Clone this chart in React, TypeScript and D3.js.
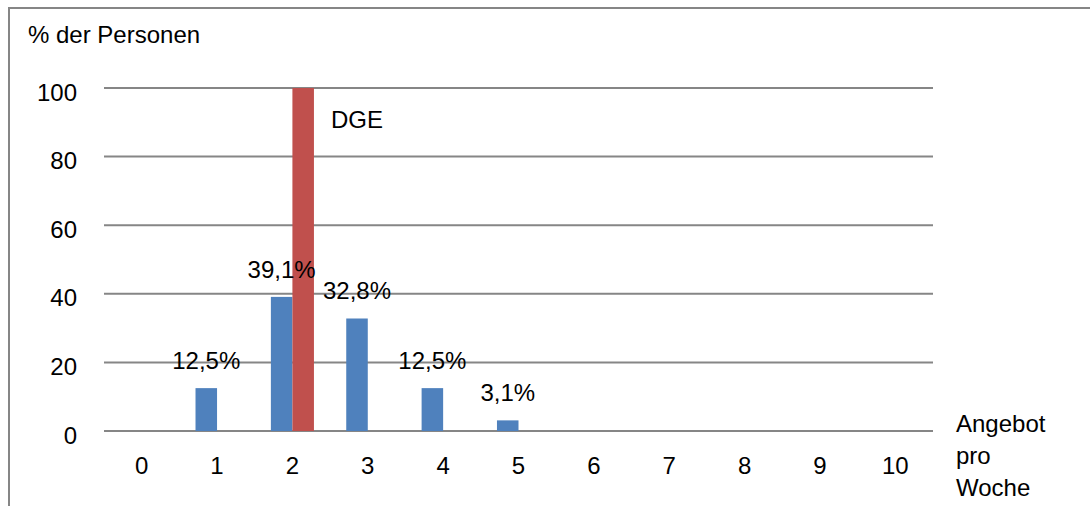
import React from "react";
import * as d3 from "d3";

// Portions per week (x categories)
const categories: string[] = ["0", "1", "2", "3", "4", "5", "6", "7", "8", "9", "10"];
// Share of persons (%) per weekly offer count
const personShare: number[] = [0, 12.5, 39.1, 32.8, 12.5, 3.1, 0, 0, 0, 0, 0];
// DGE recommendation marker
const dgeShare: number[] = [0, 0, 100, 0, 0, 0, 0, 0, 0, 0, 0];
const yTicks: number[] = [0, 20, 40, 60, 80, 100];
const seriesKeys: string[] = ["persons", "dge"];

const W = 1090;
const H = 506;
const FONT = "'Liberation Sans', Arial, sans-serif";
const FS = 24;
const GRID = "#868686";
const BLUE = "#4F81BD";
const RED = "#C0504D";

const fmt = (v: number) => v.toFixed(1).replace(".", ",") + "%";

export default function App() {
  const x0 = d3.scaleBand<string>().domain(categories).range([104, 933]).padding(0);
  const x1 = d3
    .scaleBand<string>()
    .domain(seriesKeys)
    .range([0, x0.bandwidth()])
    .paddingInner(0)
    .paddingOuter(0.75);
  const y = d3.scaleLinear().domain([0, 100]).range([431, 88]);

  const series = [
    { key: "persons", values: personShare, color: BLUE },
    { key: "dge", values: dgeShare, color: RED },
  ];

  return (
    <svg
      width={W}
      height={H}
      style={{ position: "absolute", left: 0, top: 0, background: "#fff" }}
      fontFamily={FONT}
      fontSize={FS}
    >
      {/* chart frame */}
      <rect x={9} y={8} width={1200} height={700} fill="none" stroke={GRID} strokeWidth={2} />

      {/* gridlines */}
      {yTicks.map((t) => (
        <line key={t} x1={104} x2={933} y1={y(t)} y2={y(t)} stroke={GRID} strokeWidth={2} />
      ))}

      {/* y tick labels */}
      {yTicks.map((t) => (
        <text key={"yl" + t} x={77} y={y(t) + 12.5} textAnchor="end" fill="#000">
          {t}
        </text>
      ))}

      {/* bars */}
      {series.map((s) =>
        s.values.map((v, i) =>
          v > 0 ? (
            <rect
              key={s.key + i}
              x={(x0(categories[i]) as number) + (x1(s.key) as number)}
              y={y(v)}
              width={x1.bandwidth()}
              height={y(0) - y(v)}
              fill={s.color}
            />
          ) : null
        )
      )}

      {/* value labels */}
      {personShare.map((v, i) =>
        v > 0 ? (
          <text
            key={"vl" + i}
            x={(x0(categories[i]) as number) + (x1("persons") as number) + x1.bandwidth() / 2}
            y={y(v) - 19}
            textAnchor="middle"
            fill="#000"
          >
            {fmt(v)}
          </text>
        ) : null
      )}

      {/* x tick labels */}
      {categories.map((c) => (
        <text
          key={"xl" + c}
          x={(x0(c) as number) + x0.bandwidth() / 2}
          y={474}
          textAnchor="middle"
          fill="#000"
        >
          {c}
        </text>
      ))}

      {/* axis titles */}
      <text x={28} y={43} fill="#000">% der Personen</text>
      <text x={956} y={432} fill="#000">Angebot</text>
      <text x={956} y={464} fill="#000">pro</text>
      <text x={956} y={496} fill="#000">Woche</text>

      {/* recommendation label */}
      <text x={(x0("2") as number) + (x1("dge") as number) + x1.bandwidth() + 17} y={128} fill="#000">
        DGE
      </text>
    </svg>
  );
}
